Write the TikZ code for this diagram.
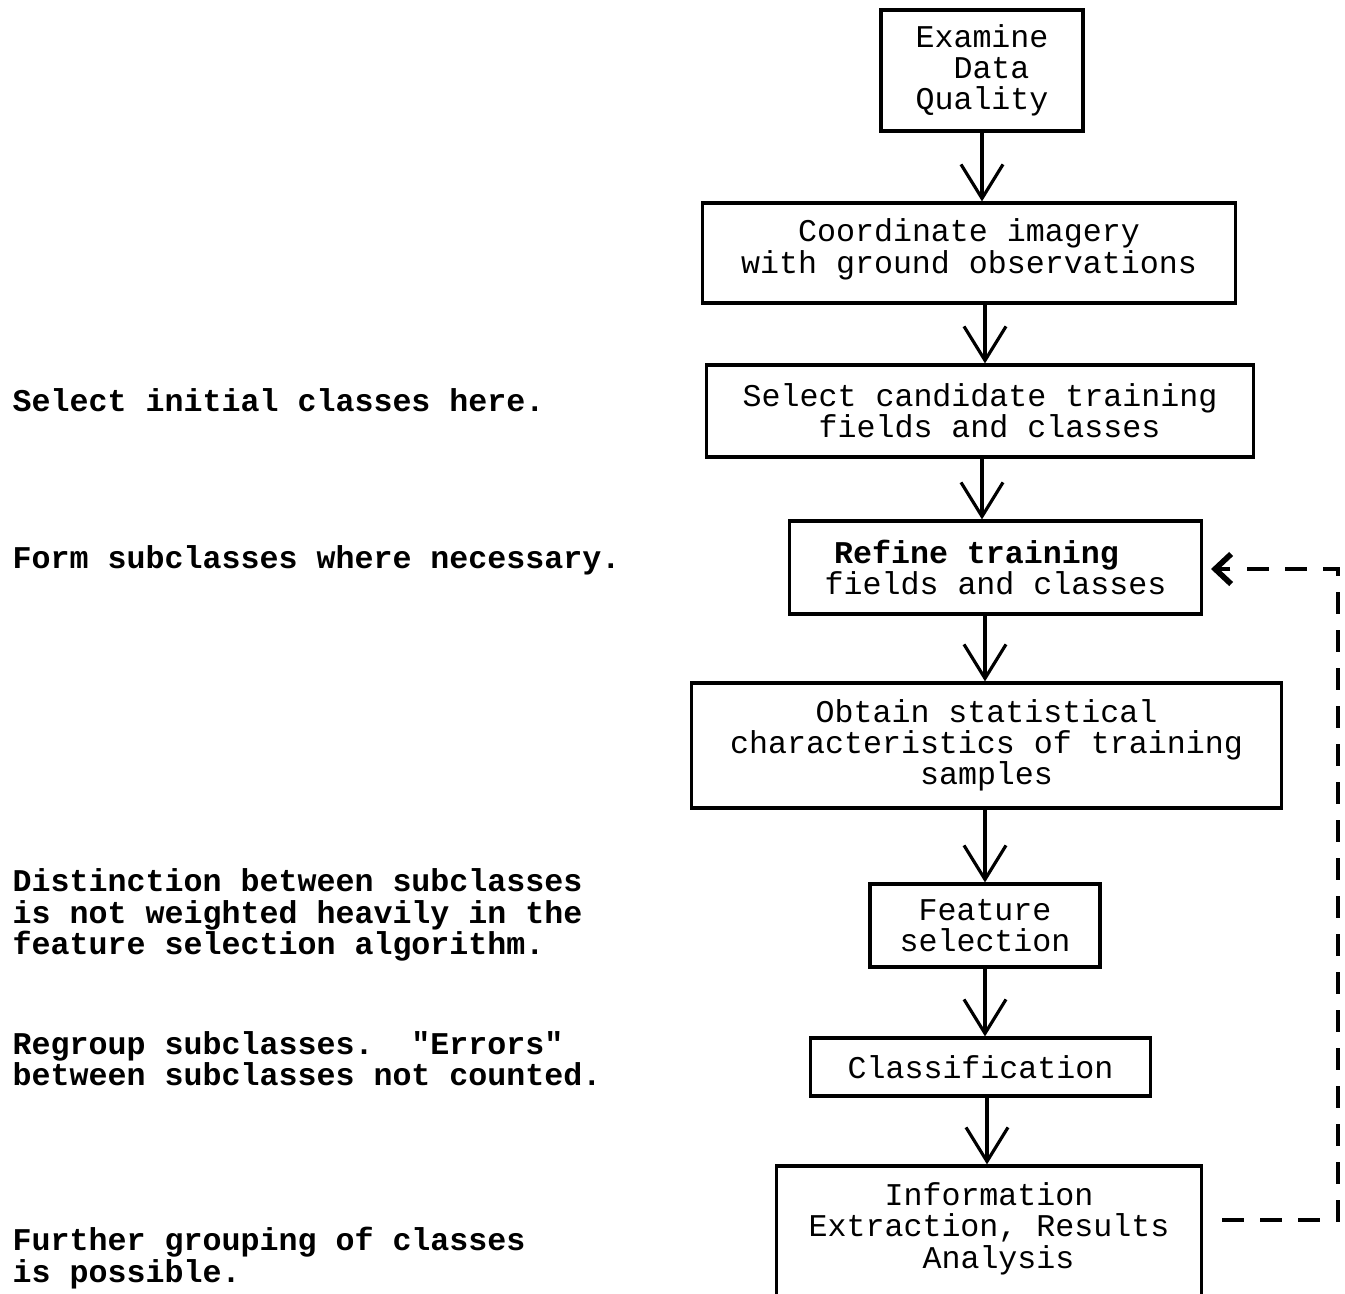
\documentclass[tikz,border=0pt]{standalone}
\usepackage{fontspec}
\setmonofont{Liberation Mono}
\usetikzlibrary{arrows.meta,calc}
\begin{document}
\begin{tikzpicture}[x=0.01cm,y=-0.01cm,
  txt/.style={font=\ttfamily\fontsize{9}{8.9}\selectfont},
  box/.style={draw, line width=0.9pt, inner sep=0pt, align=center, txt},
  note/.style={inner sep=0pt, align=left, anchor=west, font=\ttfamily\fontsize{9}{8.9}\selectfont\bfseries},
  flow/.style={line width=0.9pt, -{Straight Barb[length=3.4mm,width=4.2mm]}},
  fb/.style={line width=1.2pt, dash pattern=on 0.22cm off 0.16cm, -{Straight Barb[length=1.6mm,width=3mm,line width=1.6pt]}}]
\useasboundingbox (0,0) rectangle (1345,1293);

% flow boxes
\node[box, minimum width=2.02cm, minimum height=1.21cm] (b1) at (982,70.5) {Examine\\\kern5.4pt Data\\Quality};
\node[box, minimum width=5.32cm, minimum height=1.00cm] (b2) at (969,253) {Coordinate imagery\\with ground observations\\[-5pt]};
\node[box, minimum width=5.46cm, minimum height=0.92cm] (b3) at (980,411) {Select candidate training\\\kern5.4pt fields and classes};
\node[box, minimum width=4.11cm, minimum height=0.93cm] (b4) at (995.5,567.5) {\textbf{Refine training}\kern10.8pt\\fields and classes};
\node[box, minimum width=5.89cm, minimum height=1.25cm] (b5) at (986.5,745.5) {Obtain statistical\\characteristics of training\\samples};
\node[box, minimum width=2.30cm, minimum height=0.83cm] (b6) at (985,925.5) {Feature\\selection};
\node[box, minimum width=3.39cm, minimum height=0.58cm] (b7) at (980.5,1067) {Classification};
\node[box, minimum width=4.24cm, minimum height=1.34cm] (b8) at (989,1233) {Information\\Extraction, Results\\\kern5.4pt Analysis\\[-4.5pt]};

% axis of the main arrows
\coordinate (a1) at (982,0);
\coordinate (a2) at (985,0);
\coordinate (a3) at (987,0);

\draw[flow] (b1.south -| a1) -- (b2.north -| a1);
\draw[flow] (b2.south -| a2) -- (b3.north -| a2);
\draw[flow] (b3.south -| a1) -- (b4.north -| a1);
\draw[flow] (b4.south -| a2) -- (b5.north -| a2);
\draw[flow] (b5.south -| a2) -- (b6.north -| a2);
\draw[flow] (b6.south -| a2) -- (b7.north -| a2);
\draw[flow] (b7.south -| a3) -- (b8.north -| a3);

% feedback dashed loop
\coordinate (f1) at (1222,1220);
\coordinate (f2) at (1338,1220);
\coordinate (f3) at (1338,569);
\coordinate (f4) at (1211,569);
\draw[fb] (f1) -- (f2) -- (f3) -- (f4);

% left notes
\node[note] (n1) at (12,400) {Select initial classes here.};
\node[note] (n2) at (12,560) {Form subclasses where necessary.};
\node[note] (n3) at (12,915) {Distinction between subclasses\\is not weighted heavily in the\\feature selection algorithm.};
\node[note] (n4) at (12,1059) {Regroup subclasses.~~"Errors"\\between subclasses not counted.};
\node[note] (n5) at (12,1258) {Further grouping of classes\\is possible.};
\end{tikzpicture}
\end{document}
